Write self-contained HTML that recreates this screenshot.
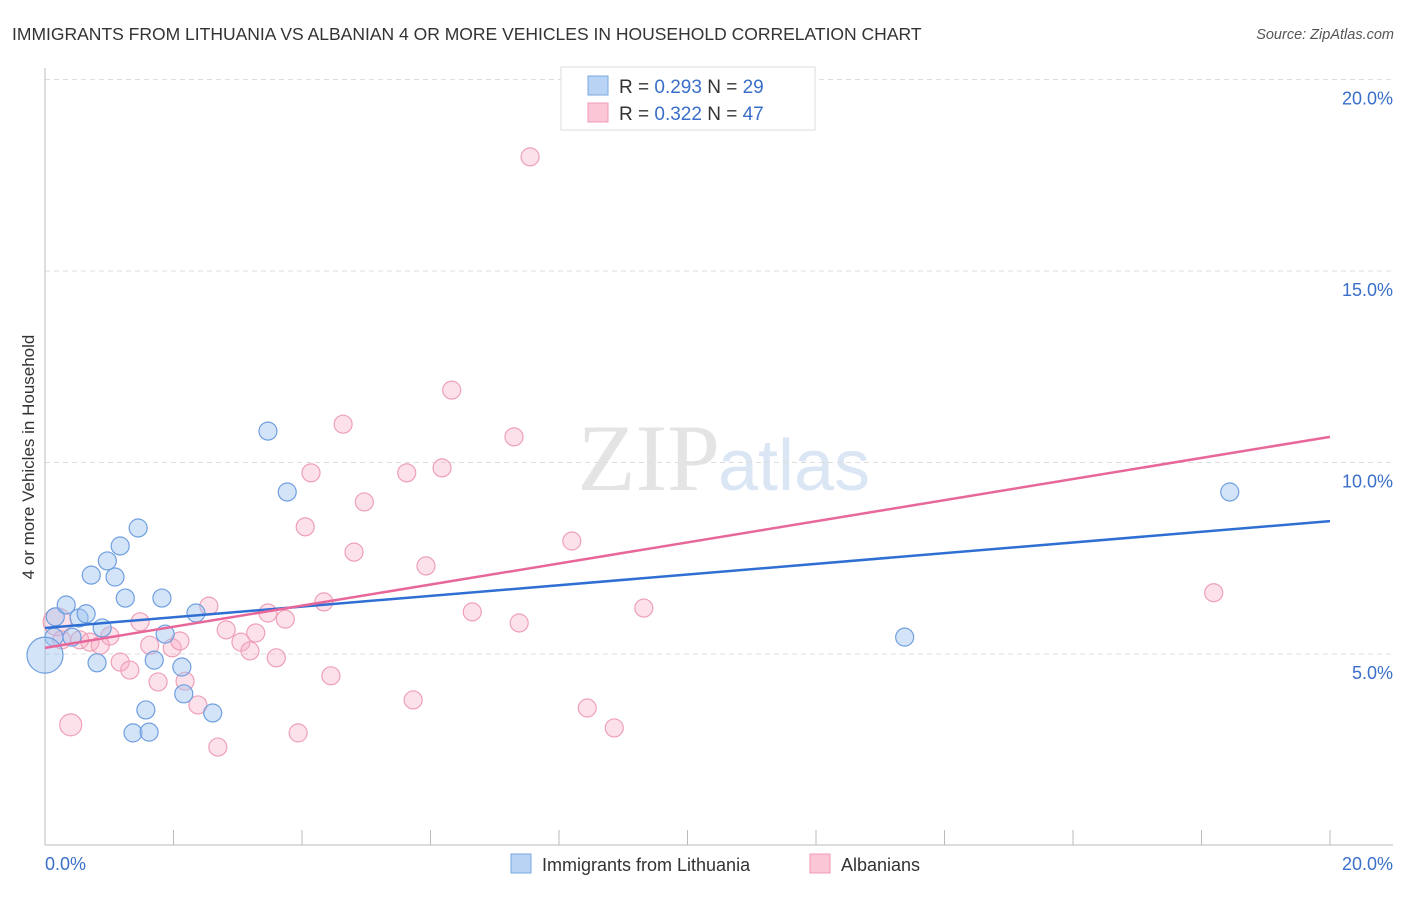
<!DOCTYPE html>
<html><head><meta charset="utf-8"><style>
body{margin:0;background:#fff;font-family:"Liberation Sans",sans-serif}
svg text{font-family:"Liberation Sans",sans-serif}
</style></head><body>
<svg id="c" width="1406" height="892" xmlns="http://www.w3.org/2000/svg">
<text x="12" y="40" font-size="17.5" fill="#333">IMMIGRANTS FROM LITHUANIA VS ALBANIAN 4 OR MORE VEHICLES IN HOUSEHOLD CORRELATION CHART</text>
<text x="1394" y="39" font-size="14.5" fill="#555" font-style="italic" text-anchor="end">Source: ZipAtlas.com</text>
<text x="720" y="490" font-size="95" fill="#e4e4e4" text-anchor="end" font-family="Liberation Serif" style="font-family:'Liberation Serif',serif">ZIP</text>
<text x="718" y="490" font-size="72" fill="#dbe6f5">atlas</text>
<g id="grid"></g>
<g id="axes"></g>
<g id="pts"></g>
<g id="trend"></g>
<text transform="translate(34,457) rotate(-90)" font-size="17" fill="#333" text-anchor="middle">4 or more Vehicles in Household</text>
<g>
<rect x="561" y="67" width="254" height="63" fill="#fff" stroke="#ddd"/>
<rect x="588" y="76" width="20" height="19" fill="#b9d3f5" stroke="#7aa7e0"/>
<rect x="588" y="103" width="20" height="19" fill="#fbc6d6" stroke="#f09ab5"/>
<text x="619" y="93" font-size="19" fill="#333">R = <tspan fill="#3a6fc9">0.293</tspan>   N = <tspan fill="#3a6fc9">29</tspan></text>
<text x="619" y="120" font-size="19" fill="#333">R = <tspan fill="#3a6fc9">0.322</tspan>   N = <tspan fill="#3a6fc9">47</tspan></text>
</g>
<g>
<rect x="511" y="854" width="20" height="19" fill="#b9d3f5" stroke="#7aa7e0"/>
<text x="542" y="871" font-size="18" fill="#333">Immigrants from Lithuania</text>
<rect x="810" y="854" width="20" height="19" fill="#fbc6d6" stroke="#f09ab5"/>
<text x="841" y="871" font-size="18" fill="#333">Albanians</text>
</g>
</svg>
<script>
const blueX=[0.16,0.33,0.14,0.42,0.53,0.64,0.72,0.81,0.89,0.97,1.09,1.17,1.25,1.37,1.45,1.57,1.62,1.70,1.82,1.87,2.13,2.16,2.35,2.61,3.47,3.77,13.38,18.44,0.0];
const blueY=[5.97,6.28,5.44,5.44,5.94,6.05,7.06,4.77,5.68,7.43,7.01,7.82,6.46,2.94,8.29,3.54,2.96,4.84,6.46,5.52,4.66,3.96,6.07,3.46,10.82,9.23,5.44,9.23,4.97];
const blueR=[9,9,9,9,9,9,9,9,9,9,9,9,9,9,9,9,9,9,9,9,9,9,9,9,9,9,9,9,18];
const pinkX=[0.19,0.26,0.54,0.70,0.86,1.01,1.17,1.32,1.48,1.63,1.76,1.98,2.10,2.18,2.38,2.55,2.69,2.82,3.05,3.19,3.28,3.47,3.60,3.74,3.94,4.05,4.14,4.34,4.45,4.64,4.81,4.97,5.63,5.73,5.93,6.18,6.33,6.65,7.30,7.38,7.55,8.20,8.44,8.86,9.32,18.19,0.40];
const pinkY=[5.84,5.37,5.37,5.31,5.23,5.47,4.79,4.58,5.84,5.23,4.27,5.16,5.34,4.29,3.67,6.25,2.57,5.63,5.31,5.08,5.55,6.07,4.90,5.91,2.94,8.32,9.73,6.36,4.43,11.0,7.66,8.97,9.73,3.80,7.30,9.86,11.89,6.10,10.67,5.81,17.98,7.95,3.59,3.07,6.20,6.60,3.15];
const pinkR=[14,9,9,9,9,9,9,9,9,9,9,9,9,9,9,9,9,9,9,9,9,9,9,9,9,9,9,9,9,9,9,9,9,9,9,9,9,9,9,9,9,9,9,9,9,9,11];
const blueTrend=[5.68,8.47];
const pinkTrend=[5.16,10.67];
const yTicks=[5,10,15,20];
const yTickLabels=["5.0%","10.0%","15.0%","20.0%"];
const xEnds=["0.0%","20.0%"];
const NS="http://www.w3.org/2000/svg";
const X=v=>45+v/20*1285, Y=v=>845.5-v*38.3;
function mk(t,a,p){const e=document.createElementNS(NS,t);for(const k in a)e.setAttribute(k,a[k]);p.appendChild(e);return e;}
const grid=document.getElementById('grid'),axes=document.getElementById('axes'),pts=document.getElementById('pts'),tr=document.getElementById('trend');
yTicks.forEach((v,i)=>{
 const l=mk('line',{x1:45,x2:1393,y1:Y(v),y2:Y(v),stroke:'#ddd','stroke-dasharray':'5,4'},grid);
 
 
 const t=mk('text',{x:1393,y:Y(v)+25,'font-size':18,fill:'#3a6fc9','text-anchor':'end'},axes);
 t.textContent=yTickLabels[i];
 
 
});
mk('line',{x1:45,x2:45,y1:68,y2:845,stroke:'#bbb'},axes);
mk('line',{x1:45,x2:1393,y1:845,y2:845,stroke:'#bbb'},axes);
for(let i=0;i<=10;i++){const tk=mk('line',{x1:X(i*2),x2:X(i*2),y1:830,y2:845,stroke:'#bbb'},axes);
 
 }
const t0=mk('text',{x:45,y:870,'font-size':18,fill:'#3a6fc9'},axes);t0.textContent=xEnds[0];


const t1=mk('text',{x:1393,y:870,'font-size':18,fill:'#3a6fc9','text-anchor':'end'},axes);t1.textContent=xEnds[1];


pinkX.forEach((v,i)=>{const c=mk('circle',{cx:X(v),cy:Y(pinkY[i]),r:pinkR[i],fill:'rgba(248,170,195,0.35)',stroke:'#eea0b8','stroke-width':1.2},pts);
 
 });
blueX.forEach((v,i)=>{const c=mk('circle',{cx:X(v),cy:Y(blueY[i]),r:blueR[i],fill:'rgba(160,195,240,0.45)',stroke:'#6f9fe0','stroke-width':1.2},pts);
 
 });
const bl=mk('line',{x1:X(0),x2:X(20),y1:Y(blueTrend[0]),y2:Y(blueTrend[1]),stroke:'#2f6fd4','stroke-width':2.5},tr);


const pl=mk('line',{x1:X(0),x2:X(20),y1:Y(pinkTrend[0]),y2:Y(pinkTrend[1]),stroke:'#e8679a','stroke-width':2.5},tr);


</script>
</body></html>
